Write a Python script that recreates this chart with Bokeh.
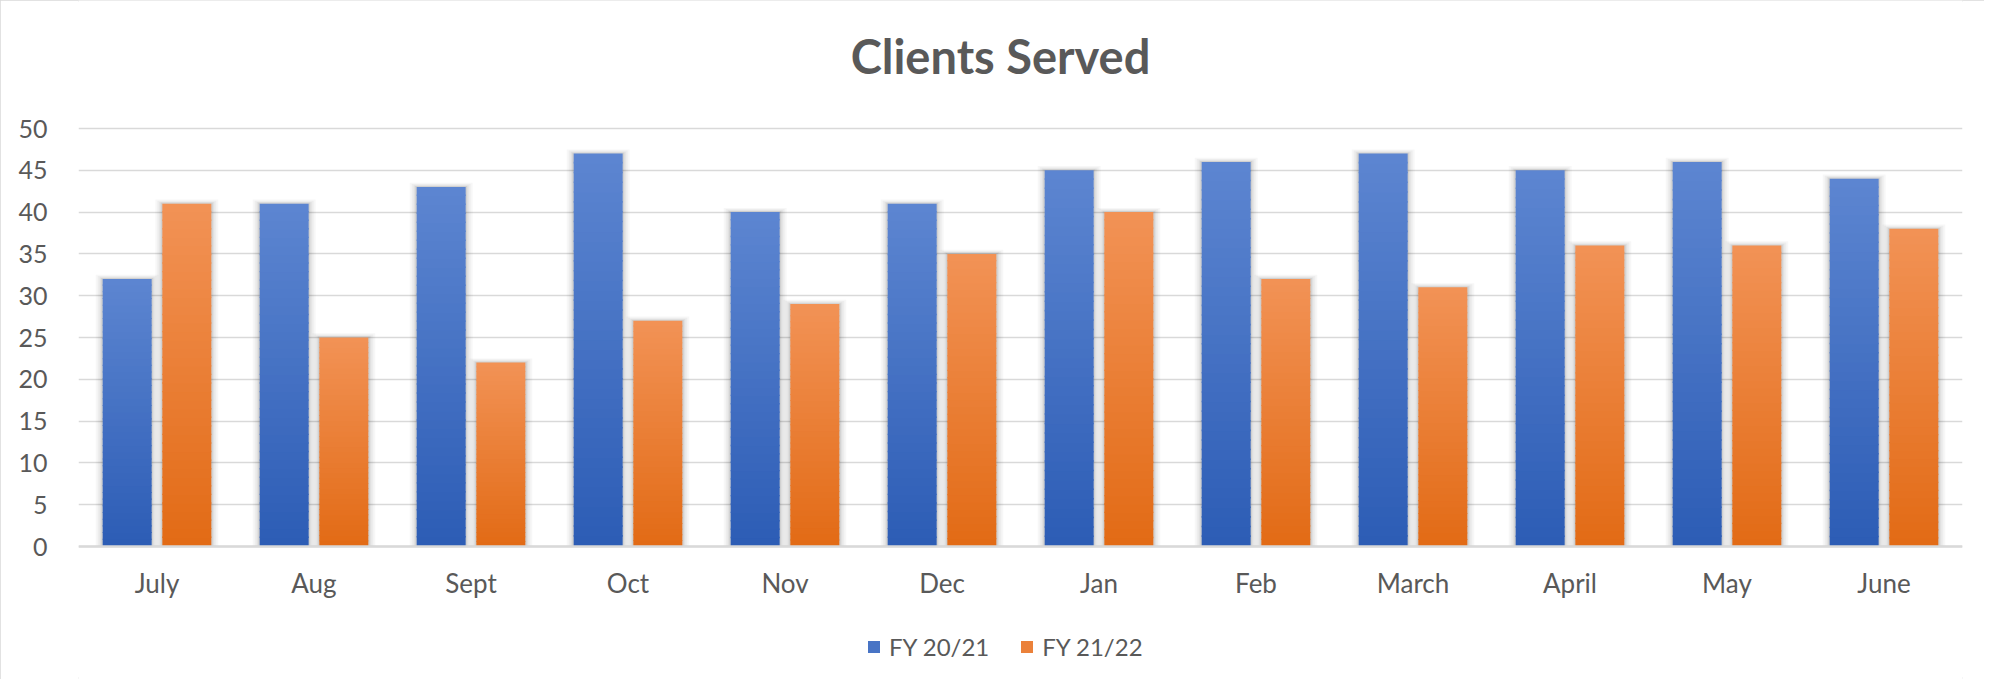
import numpy as np
from bokeh.plotting import figure
from bokeh.models import (ColumnDataSource, FactorRange, Range1d, FixedTicker,
                          Legend, LegendItem, Label)
from bokeh.transform import dodge
from bokeh.embed import file_html
from bokeh.resources import INLINE

# ---------------- data ----------------
months = ["July", "Aug", "Sept", "Oct", "Nov", "Dec",
          "Jan", "Feb", "March", "April", "May", "June"]
fy_2021 = [32, 41, 43, 47, 40, 41, 45, 46, 47, 45, 46, 44]
fy_2122 = [41, 25, 22, 27, 29, 35, 40, 32, 31, 36, 36, 38]
series_names = ["FY 20/21", "FY 21/22"]
y_ticks = list(range(0, 51, 5))
title_text = "Clients Served"

# ---------------- style / layout ----------------
FONT = "Lato"
TEXT_COLOR = "#595959"
GRID_COLOR = "#d9d9d9"
BLUE_TOP, BLUE_BOTTOM = "#5d86d1", "#2c5cb5"
ORANGE_TOP, ORANGE_BOTTOM = "#f29356", "#e26a15"
N_SLICES = 40
BAR_W = 0.312
OFFSET = 0.19

W, H = 1984, 679
LEFT, RIGHT = 78, 1962           # plot area x extent (px)
Y50_PX, Y0_PX = 128, 546         # pixel rows of value 50 and value 0
PX_PER_UNIT = (Y0_PX - Y50_PX) / 50.0
CAT_PX = (RIGHT - LEFT) / len(months)
y_lo = -(H - Y0_PX) / PX_PER_UNIT
y_hi = 50 + Y50_PX / PX_PER_UNIT


def hex2rgb(h):
    h = h.lstrip("#")
    return np.array([int(h[i:i + 2], 16) for i in (0, 2, 4)], dtype=float)


def mix(c_bottom, c_top, t):
    a, b = hex2rgb(c_bottom), hex2rgb(c_top)
    c = a + (b - a) * t
    return "#%02x%02x%02x" % tuple(int(round(v)) for v in c)


def gradient_source(values, c_bottom, c_top):
    xs, bottoms, tops, colors = [], [], [], []
    for m, v in zip(months, values):
        for i in range(N_SLICES):
            xs.append(m)
            bottoms.append(v * i / N_SLICES)
            tops.append(v * (i + 1) / N_SLICES + (0.0 if i == N_SLICES - 1 else v * 0.004))
            colors.append(mix(c_bottom, c_top, (i + 0.5) / N_SLICES))
    return ColumnDataSource(dict(x=xs, bottom=bottoms, top=tops, color=colors))


p = figure(x_range=FactorRange(*months), y_range=Range1d(y_lo, y_hi),
           width=W, height=H, output_backend="svg", toolbar_location=None,
           min_border_left=LEFT, min_border_right=W - RIGHT,
           min_border_top=0, min_border_bottom=0)
p.styles = {"outline": "2px solid #d9d9d9", "outline-offset": "-2px"}

p.background_fill_color = "white"
p.border_fill_color = "white"
p.outline_line_color = None

# grid / axes
p.xgrid.grid_line_color = None
p.ygrid.grid_line_color = GRID_COLOR
p.ygrid.grid_line_width = 1.6
p.yaxis.ticker = FixedTicker(ticks=y_ticks)
p.yaxis.axis_line_color = None
p.yaxis.major_tick_line_color = None
p.yaxis.minor_tick_line_color = None
p.yaxis.major_label_standoff = 25
p.yaxis.major_label_text_font_size = "25px"
p.xaxis.fixed_location = 0
p.xaxis.axis_line_color = GRID_COLOR
p.xaxis.axis_line_width = 2.5
p.xaxis.major_tick_line_color = None
p.xaxis.minor_tick_line_color = None
p.xaxis.major_label_standoff = 14
p.xaxis.major_label_text_font_size = "26px"
for ax in (p.xaxis, p.yaxis):
    ax.major_label_text_font = FONT
    ax.major_label_text_color = TEXT_COLOR

series = [(fy_2021, -OFFSET, BLUE_BOTTOM, BLUE_TOP),
          (fy_2122, OFFSET, ORANGE_BOTTOM, ORANGE_TOP)]

legend_items = []
for name, (vals, off, cb, ct) in zip(series_names, series):
    # soft shadow: slightly larger translucent bars behind
    for d_px, alpha in ((7, 0.03), (5, 0.04), (3, 0.05), (1.5, 0.07)):
        ssrc = ColumnDataSource(dict(x=months,
                                     top=[v + d_px * 0.6 / PX_PER_UNIT for v in vals]))
        p.vbar(x=dodge("x", off, range=p.x_range), top="top", bottom=0,
               width=BAR_W + 2 * d_px / CAT_PX, source=ssrc,
               fill_color="black", fill_alpha=alpha, line_color=None)
    gsrc = gradient_source(vals, cb, ct)
    bars = p.vbar(x=dodge("x", off, range=p.x_range), bottom="bottom", top="top",
                  width=BAR_W, source=gsrc, fill_color="color", line_color=None)
    legend_items.append(LegendItem(label=name, renderers=[bars],
                                   index=int(N_SLICES * 0.55)))

legend = Legend(items=legend_items, orientation="horizontal",
                location=(866 - LEFT, H - 661), padding=0, margin=0,
                glyph_width=15, glyph_height=15, label_height=20,
                label_standoff=8, spacing=30,
                label_text_font=FONT, label_text_font_size="24px",
                label_text_color=TEXT_COLOR,
                background_fill_alpha=0, border_line_color=None)
p.add_layout(legend, "center")

title = Label(x=6.0, y=50 + (Y50_PX - 55) / PX_PER_UNIT, x_offset=-20,
              text=title_text, text_font=FONT, text_font_size="47px",
              text_font_style="bold", text_color=TEXT_COLOR,
              text_align="center", text_baseline="middle")
p.add_layout(title)

open("out.html", "w").write(file_html(p, INLINE))
